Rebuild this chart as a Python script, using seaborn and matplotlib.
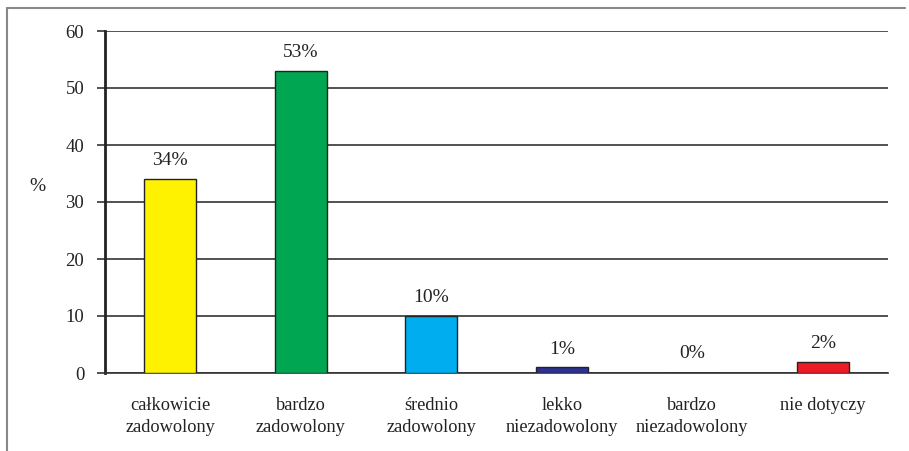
import matplotlib
matplotlib.use("Agg")
import matplotlib.pyplot as plt
from matplotlib.lines import Line2D
import seaborn as sns
import pandas as pd

categories = ["całkowicie\nzadowolony", "bardzo\nzadowolony", "średnio\nzadowolony",
              "lekko\nniezadowolony", "bardzo\nniezadowolony", "nie dotyczy"]
values = [34, 53, 10, 1, 0, 2]
labels = ["34%", "53%", "10%", "1%", "0%", "2%"]
colors = ["#FFF200", "#00A651", "#00AEEF", "#2E3192", "#FFFFFF", "#ED1C24"]
yticks = [0, 10, 20, 30, 40, 50, 60]

sns.set_style("white")
plt.rcParams["font.family"] = ["Liberation Serif", "DejaVu Serif"]

df = pd.DataFrame({"cat": categories, "val": values})

fig = plt.figure(figsize=(9.09, 4.51), dpi=100)
ax = fig.add_axes([105/909, 78/451, 783/909, 342/451])

sns.barplot(data=df, x="cat", y="val", hue="cat", palette=colors, legend=False,
            saturation=1, width=0.4, edgecolor="#222222", linewidth=1.0, ax=ax, zorder=3)

ax.set_ylim(0, 60)
ax.set_xlim(-0.5, len(categories) - 0.5)
ax.set_yticks(yticks)
ax.set_yticklabels([str(t) for t in yticks], fontsize=13.5, color="#222222",
                   family=["Liberation Serif", "DejaVu Serif"])
ax.yaxis.grid(True, color="#333333", linewidth=1.2, zorder=0)
ax.set_axisbelow(True)
ax.tick_params(axis="y", length=6, width=1.2, color="#333333", pad=9, left=True)
ax.tick_params(axis="x", length=0, pad=17, labelcolor="#222222")
for t in ax.get_xticklabels():
    t.set_linespacing(1.45)
    t.set_fontsize(13.2)
    t.set_family(["Liberation Serif", "DejaVu Serif"])
ax.set_xlabel("")
ax.set_ylabel("%", rotation=0, fontsize=14, color="#222222", va="center", ha="center",
              family=["Liberation Serif", "DejaVu Serif"])
ax.yaxis.set_label_coords(-0.086, 0.544)

for s in ["top", "right"]:
    ax.spines[s].set_visible(False)
ax.spines["left"].set_color("#222222")
ax.spines["left"].set_linewidth(2.0)
ax.spines["bottom"].set_color("#333333")
ax.spines["bottom"].set_linewidth(1.2)

for i, (v, lab) in enumerate(zip(values, labels)):
    ax.annotate(lab, (i, v), xytext=(0, 7 if v > 0 else 8), textcoords="offset points",
                ha="center", va="bottom", fontsize=14, color="#222222",
                family=["Liberation Serif", "DejaVu Serif"])

# outer frame (left and top)
fig.add_artist(Line2D([7/909, 7/909], [0, 1 - 8/451], transform=fig.transFigure,
                      color="#888888", linewidth=1.5))
fig.add_artist(Line2D([7/909, 905/909], [1 - 8/451, 1 - 8/451], transform=fig.transFigure,
                      color="#888888", linewidth=1.5))

fig.savefig("out.png", dpi=100)
